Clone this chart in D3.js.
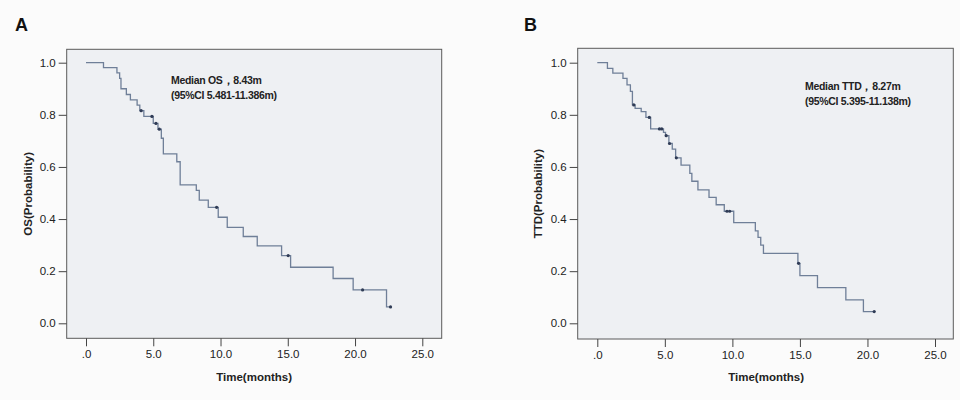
<!DOCTYPE html>
<html><head><meta charset="utf-8">
<script src="https://cdn.jsdelivr.net/npm/d3@7"></script>
<style>
html,body{margin:0;padding:0;background:#fbfbfb;}
svg{display:block;font-family:"Liberation Sans",Arial,sans-serif;}
</style></head>
<body><svg id="c" width="960" height="400"></svg>
<script>
// Panel A: OS Kaplan-Meier step data (time in months, survival after step)
const stepTimesA = [0, 1.3, 2.3, 2.5, 2.6, 3.0, 3.3, 3.8, 4.0, 4.3, 5.0, 5.35, 5.6, 5.75, 6.75, 7.0, 8.2, 8.42, 9.09, 9.83, 10.5, 11.69, 12.73, 14.54, 15.21, 18.37, 19.86, 22.34];
const survA      = [1.0, 0.981, 0.961, 0.94, 0.90, 0.878, 0.857, 0.837, 0.816, 0.794, 0.767, 0.745, 0.71, 0.65, 0.62, 0.531, 0.51, 0.473, 0.445, 0.407, 0.368, 0.333, 0.297, 0.26, 0.215, 0.172, 0.128, 0.063];
const censorTimesA = [4.1, 4.9, 5.2, 5.45, 9.71, 15.03, 20.56, 22.64];
const endTimeA = 22.64;

// Panel B: TTD Kaplan-Meier step data
const stepTimesB = [0, 0.75, 1.15, 1.9, 2.2, 2.45, 2.6, 2.8, 3.25, 3.6, 3.95, 4.9, 5.05, 5.3, 5.55, 5.8, 6.2, 6.85, 7.0, 7.45, 8.27, 8.8, 9.4, 10.1, 11.7, 11.9, 12.1, 12.3, 14.85, 15.0, 16.3, 18.4, 19.7];
const survB      = [1.0, 0.978, 0.96, 0.94, 0.915, 0.89, 0.838, 0.825, 0.812, 0.79, 0.746, 0.733, 0.72, 0.69, 0.668, 0.635, 0.607, 0.575, 0.545, 0.512, 0.483, 0.455, 0.43, 0.386, 0.355, 0.33, 0.30, 0.268, 0.23, 0.183, 0.137, 0.09, 0.045];
const censorTimesB = [2.7, 3.85, 4.6, 4.77, 5.1, 5.35, 5.85, 9.6, 9.8, 14.9, 20.5];
const endTimeB = 20.5;

const xTicks = [0, 5, 10, 15, 20, 25];
const xTickLabels = [".0", "5.0", "10.0", "15.0", "20.0", "25.0"];
const yTicks = [0, 0.2, 0.4, 0.6, 0.8, 1.0];
const yTickLabels = ["0.0", "0.2", "0.4", "0.6", "0.8", "1.0"];

const panels = [
  {letter:"A", yTitle:"OS(Probability)", xTitle:"Time(months)",
   note:["Median OS，8.43m","(95%CI 5.481-11.386m)"],
   times:stepTimesA, surv:survA, censor:censorTimesA, end:endTimeA,
   frame:{l:66.7,t:49.3,r:441.7,b:338.3}, x0:86, x25:422.3,
   letterX:15, yTitleX:28, noteX:171, noteY:84},
  {letter:"B", yTitle:"TTD(Probability)", xTitle:"Time(months)",
   note:["Median TTD，8.27m","(95%CI 5.395-11.138m)"],
   times:stepTimesB, surv:survB, censor:censorTimesB, end:endTimeB,
   frame:{l:577.7,t:48.3,r:953.3,b:339}, x0:597.3, x25:935,
   letterX:524, yTitleX:538, noteX:805, noteY:90}
];

const svg = d3.select("#c");

function survAt(times, surv, t){
  let s = surv[0];
  for (let i=0;i<times.length;i++){ if (times[i] <= t) s = surv[i]; }
  return s;
}

panels.forEach(p => {
  const f = p.frame;
  const x = d3.scaleLinear().domain([0,25]).range([p.x0, p.x25]);
  const y = d3.scaleLinear().domain([0,1]).range([323.3, 62.7]);
  const g = svg.append("g");

  g.append("rect").attr("x",f.l).attr("y",f.t).attr("width",f.r-f.l).attr("height",f.b-f.t)
    .attr("fill","#eef0f3").attr("stroke","#5a5a5a").attr("stroke-width",1);

  // axes
  const xa = d3.axisBottom(x).tickValues(xTicks).tickSize(8).tickPadding(4)
    .tickFormat((d,i)=>xTickLabels[i]);
  const xg = g.append("g").attr("transform",`translate(0,${f.b})`).call(xa);
  xg.select(".domain").remove();
  const ya = d3.axisLeft(y).tickValues(yTicks).tickSize(8).tickPadding(3)
    .tickFormat((d,i)=>yTickLabels[i]);
  const yg = g.append("g").attr("transform",`translate(${f.l},0)`).call(ya);
  yg.select(".domain").remove();
  g.selectAll(".tick line").attr("stroke","#444").attr("stroke-width",1);
  g.selectAll(".tick text").attr("fill","#222").attr("font-size",11.5)
    .attr("font-family","'Liberation Sans',Arial,sans-serif");

  // step line
  const pts = [];
  for (let i=0;i<p.times.length;i++){
    if (i>0) pts.push([p.times[i], p.surv[i-1]]);
    pts.push([p.times[i], p.surv[i]]);
  }
  pts.push([p.end, p.surv[p.surv.length-1]]);
  const line = d3.line().x(d=>x(d[0])).y(d=>y(d[1]));
  g.append("path").attr("d",line(pts)).attr("fill","none")
    .attr("stroke","#6f7f98").attr("stroke-width",1.3);

  // censor marks
  g.selectAll("circle.cen").data(p.censor).enter().append("circle")
    .attr("cx",d=>x(d)).attr("cy",d=>y(survAt(p.times,p.surv,d)))
    .attr("r",1.6).attr("fill","#2f3b55");

  // note text
  p.note.forEach((t,i)=>{
    g.append("text").attr("x",p.noteX).attr("y",p.noteY + i*15)
      .attr("font-size",10.5).attr("font-weight","bold").attr("fill","#222")
      .attr("letter-spacing",-0.3).text(t);
  });

  // titles
  g.append("text").attr("x",(x(0)+x(25))/2).attr("y",381).attr("text-anchor","middle")
    .attr("font-size",11.5).attr("font-weight","bold").attr("fill","#222").text(p.xTitle);
  g.append("text").attr("transform",`translate(${p.yTitleX},${(f.t+f.b)/2}) rotate(-90)`)
    .attr("text-anchor","middle").attr("dy","0.35em")
    .attr("font-size",11.5).attr("font-weight","bold").attr("fill","#222").text(p.yTitle);

  g.append("text").attr("x",p.letterX).attr("y",31).attr("font-size",18)
    .attr("font-weight","bold").attr("fill","#111").text(p.letter);
});
</script></body></html>
